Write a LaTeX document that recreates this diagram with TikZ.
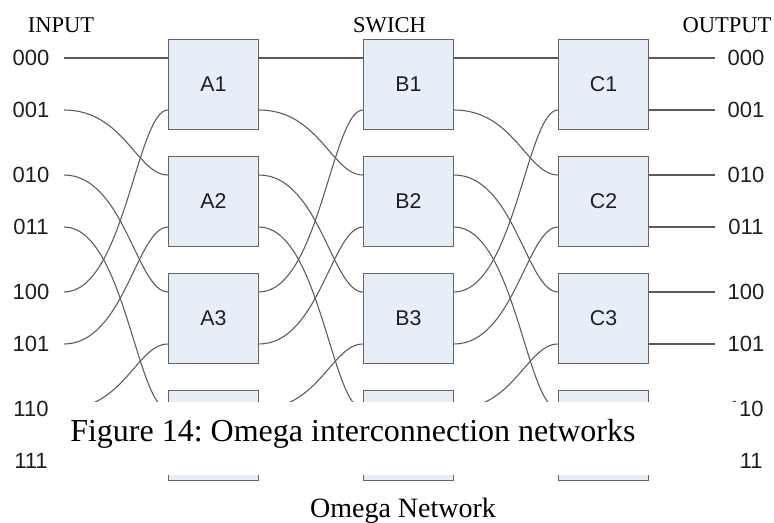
\documentclass[tikz,border=0pt]{standalone}
\usepackage{fontspec}
\setmainfont{Liberation Serif}
\newfontfamily\arialf{Liberation Sans}
\definecolor{boxfill}{RGB}{232,238,248}
\definecolor{boxline}{RGB}{100,100,100}
\definecolor{wirec}{RGB}{90,90,90}
\definecolor{labc}{RGB}{30,30,30}
\frenchspacing
\begin{document}
\begin{tikzpicture}[x=0.75pt,y=-0.75pt,
  box/.style={draw=boxline,fill=boxfill,line width=1pt,minimum width=67.5pt,minimum height=67.5pt,inner sep=0pt,
    font=\arialf\fontsize{16}{18}\selectfont,text=labc},
  wire/.style={draw=wirec,line width=0.8pt},
  port/.style={font=\arialf\fontsize{16.5}{18}\selectfont,text=labc,inner sep=0pt},
  head/.style={font=\fontsize{16.9}{19}\selectfont,anchor=base,inner sep=0pt}]
\useasboundingbox (0,0) rectangle (774,522);
% port coordinates
\foreach \i/\y in {0/58,1/110,2/175,3/227,4/292,5/344,6/409,7/461}{
  \coordinate (IN\i) at (64,\y);
  \coordinate (AL\i) at (168,\y);
  \coordinate (AR\i) at (259,\y);
  \coordinate (BL\i) at (363,\y);
  \coordinate (BR\i) at (454,\y);
  \coordinate (CL\i) at (558,\y);
  \coordinate (CR\i) at (649,\y);
  \coordinate (OUT\i) at (715,\y);
}
% wires (perfect shuffle)
\foreach \i/\j in {0/0,1/2,2/4,3/6,4/1,5/3,6/5,7/7}{
  \draw[wire] (IN\i) .. controls +(60,0) and +(-31,0) .. (AL\j);
  \draw[wire] (AR\i) .. controls +(60,0) and +(-31,0) .. (BL\j);
  \draw[wire] (BR\i) .. controls +(60,0) and +(-31,0) .. (CL\j);
  \draw[wire] (CR\i) -- (OUT\i);
}
% switch boxes
\foreach \c/\x in {A/213.5,B/408.5,C/603.5}{
  \foreach \r/\y in {1/84.5,2/201.5,3/318.5,4/435.5}{
    \node[box] (\c\r) at (\x,\y) {\ifnum\r<4 \c\r\fi};
  }
}
% port labels
\foreach \i/\t/\y in {0/000/58,1/001/110,2/010/175,3/011/227,4/100/292,5/101/344,6/110/409,7/111/461}{
  \node[port] (L\i) at (31,\y) {\t};
  \node[port] (R\i) at (746,\y) {\t};
}
% headers
\node[head] (hin) at (61,32) {INPUT};
\node[head] (hsw) at (389.5,32) {SWICH};
\node[head] (hout) at (727,32) {OUTPUT};
% caption band covering the last row
\fill[white] (58,402) rectangle (740,475);
\node[anchor=base west,inner sep=0pt,font=\fontsize{24}{28}\selectfont] (cap) at (70,441) {Figure 14: Omega interconnection networks};
\node[anchor=base,inner sep=0pt,font=\fontsize{21}{24}\selectfont] (title) at (403,517) {Omega Network};
\end{tikzpicture}
\end{document}
